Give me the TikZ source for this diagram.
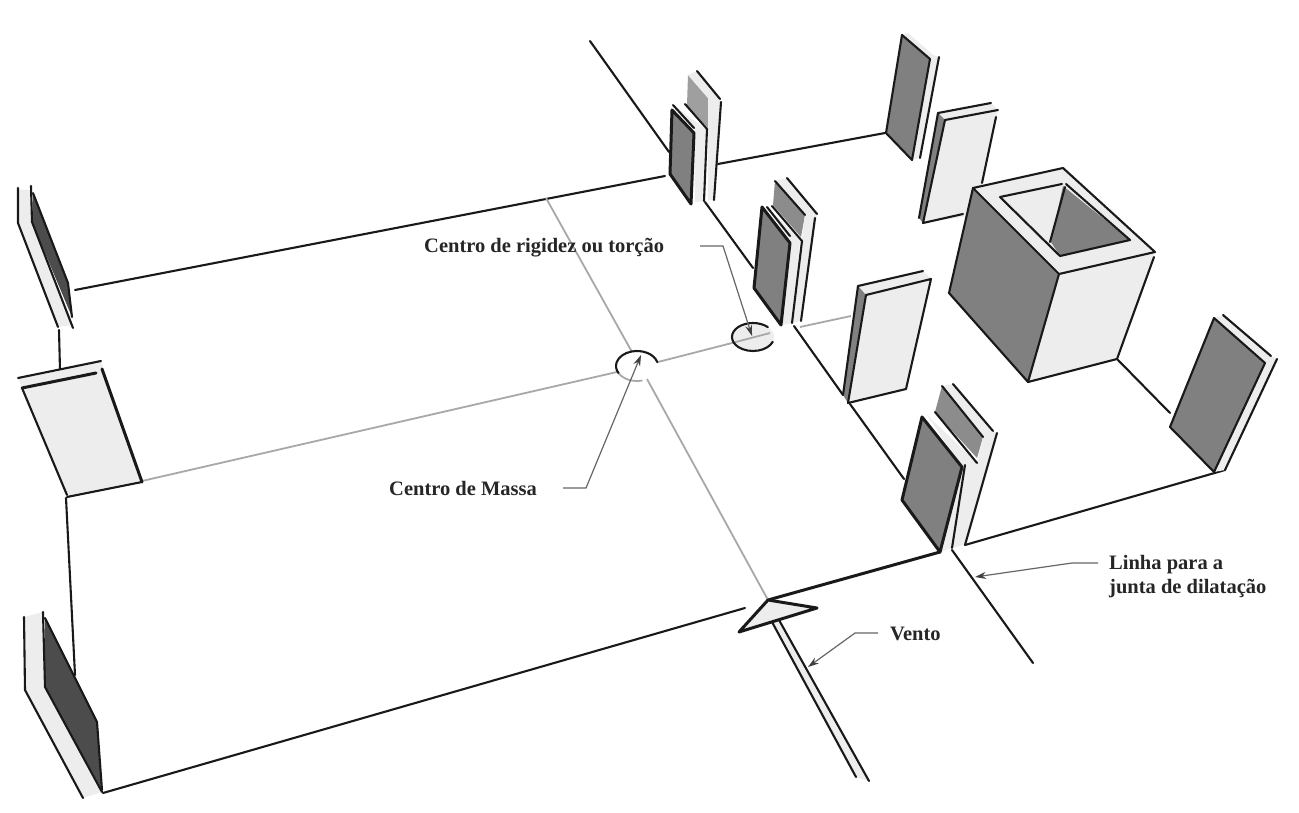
\documentclass[tikz,border=0pt]{standalone}
\usepackage{fontspec}
\setmainfont{Liberation Serif}
\usetikzlibrary{arrows.meta}
\definecolor{walldark}{gray}{0.5}
\definecolor{walldeep}{gray}{0.3}
\definecolor{walllight}{gray}{0.93}
\definecolor{axisgray}{gray}{0.66}
\tikzset{
	edgeline/.style={line width=2.1pt,line cap=round,line join=round,black!90},
	thickline/.style={line width=3pt,line cap=round,line join=round,black!90},
	axisline/.style={line width=1.8pt,axisgray},
	leader/.style={line width=1.2pt,black!60,-{Stealth[length=11pt,width=7pt,black!75]}},
	labeltext/.style={font=\fontsize{20.5}{24}\selectfont\bfseries,black!85,inner sep=0pt,align=left,anchor=west},
}
\begin{document}
\begin{tikzpicture}[x=1pt,y=-1pt]
	
	\useasboundingbox[fill=white] (0,0) rectangle (1299,813);
	
	\draw[edgeline] (75,290) -- (665,176);
	\draw[edgeline] (718,164) -- (885,133);
	\draw[edgeline] (590,41) -- (669,152);
	\draw[edgeline] (705,202) -- (753,268);
	\draw[edgeline] (794,326) -- (843,395);
	\draw[edgeline] (850,404) -- (904,479);
	\draw[edgeline] (952,550) -- (1033,663);
	\draw[edgeline] (1117,359) -- (1170,413);
	\draw[edgeline] (965,545) -- (1225,470);
	\draw[thickline] (768,600) -- (940,552);
	\draw[edgeline] (103,793) -- (745,608);
	\draw[edgeline] (59,330) -- (60,370);
	\draw[edgeline] (66,498) -- (75,675);
	
	\draw[axisline] (546,198) -- (632,352);
	\draw[axisline] (647,379) -- (768,600);
	\draw[axisline] (142,481) -- (617,372);
	\draw[axisline] (658,362) -- (732,343);
	\draw[axisline] (800,327) -- (851,316);
	
	\fill[walllight] (753,337) ellipse [x radius=21, y radius=14];
	\draw[axisline] (732,343) -- (770,333);
	\draw[edgeline] (753,337) ++(-45:21 and 14) arc[start angle=-45, end angle=-340, x radius=21, y radius=14];
	\draw[edgeline] (637,366) ++(-15:21 and 15) arc[start angle=-15, end angle=-210, x radius=21, y radius=15];
	\draw[axisline] (637,366) ++(-210:21 and 15) arc[start angle=-210, end angle=-285, x radius=21, y radius=15];
	
	\fill[walllight] (673,105) -- (707,130) -- (704,201) -- (695,202) -- (694,133) -- cycle;
	\fill[walldark!75] (688,75) -- (708,98) -- (708,128) -- (687,105) -- cycle;
	\fill[walllight] (697,71) -- (720,99) -- (714,200) -- (708,200) -- (708,98) -- (688,75) -- cycle;
	\fill[walldark] (672,110) -- (694,133) -- (691,204) -- (670,174) -- cycle;
	\draw[thickline] (672,110) -- (670,174) -- (691,204) -- (694,133) -- cycle;
	\draw[edgeline] (673,105) -- (694,128);
	\draw[edgeline] (685,104) -- (707,129) -- (704,201);
	\draw[edgeline] (697,71) -- (720,99);
	\draw[edgeline] (721,102) -- (714,200);
	
	\fill[walldark!90] (775,181) -- (805,215) -- (801,237) -- (773,205) -- cycle;
	\fill[walllight] (787,178) -- (817,214) -- (801,321) -- (792,323) -- (805,215) -- (775,181) -- cycle;
	\fill[walllight] (767,207) -- (800,240) -- (792,323) -- (781,325) -- (790,243) -- cycle;
	\fill[walldark] (762,207) -- (790,243) -- (781,325) -- (754,288) -- cycle;
	\draw[thickline] (762,207) -- (754,288) -- (781,325) -- (790,243) -- cycle;
	\draw[edgeline] (767,207) -- (790,236);
	\draw[edgeline] (775,181) -- (805,215);
	\draw[edgeline] (772,206) -- (802,241) -- (792,323);
	\draw[edgeline] (787,178) -- (817,214);
	\draw[edgeline] (815,218) -- (801,321);
	
	\fill[walllight] (858,286) -- (923,271) -- (931,279) -- (906,389) -- (848,403) -- (843,395) -- cycle;
	\fill[walldark] (858,286) -- (866,295) -- (848,403) -- (843,395) -- cycle;
	\draw[edgeline] (858,286) -- (923,271);
	\draw[edgeline] (858,286) -- (843,395);
	\draw[edgeline] (866,295) -- (931,279) -- (906,389) -- (848,403) -- cycle;
	
	\fill[walllight] (908,33) -- (933,55) -- (939,57) -- (920,158) -- (912,160) -- (930,59) -- (902,35) -- cycle;
	\fill[walldark] (902,35) -- (930,59) -- (912,160) -- (886,133) -- cycle;
	\draw[edgeline] (902,35) -- (886,133) -- (912,160) -- (930,59) -- cycle;
	\draw[edgeline] (939,57) -- (920,158);
	
	\fill[walllight] (938,113) -- (991,103) -- (998,110) -- (975,215) -- (923,223) -- (919,218) -- cycle;
	\fill[walldark] (938,113) -- (945,120) -- (923,223) -- (919,218) -- cycle;
	\draw[edgeline] (938,113) -- (991,103);
	\draw[edgeline] (938,113) -- (919,218);
	\draw[edgeline] (945,120) -- (998,110);
	\draw[edgeline] (945,120) -- (923,223) -- (963,214);
	\draw[edgeline] (996,117) -- (982,183);
	
	\fill[walllight] (973,188) -- (1063,168) -- (1155,252) -- (1117,359) -- (1028,382) -- (1059,274) -- cycle;
	\fill[walldark] (973,188) -- (1059,274) -- (1028,382) -- (949,293) -- cycle;
	\fill[walllight] (1000,197) -- (1062,184) -- (1051,242) -- cycle;
	\fill[walldark] (1063,186) -- (1130,240) -- (1060,256) -- (1051,242) -- cycle;
	\draw[edgeline] (973,188) -- (1063,168) -- (1155,252) -- (1059,274) -- cycle;
	\draw[edgeline] (973,188) -- (949,293) -- (1028,382) -- (1059,274);
	\draw[edgeline] (1028,382) -- (1117,359) -- (1154,257);
	\draw[edgeline] (1000,197) -- (1062,184);
	\draw[edgeline] (1000,197) -- (1060,256) -- (1130,240) -- (1066,184);
	\draw[edgeline] (1050,242) -- (1065,187);
	
	\fill[walllight] (1223,315) -- (1271,356) -- (1277,359) -- (1225,470) -- (1214,472) -- (1265,363) -- (1214,318) -- cycle;
	\fill[walldark] (1214,318) -- (1265,363) -- (1214,472) -- (1170,427) -- cycle;
	\draw[edgeline] (1214,318) -- (1170,427) -- (1214,472) -- (1265,363) -- cycle;
	\draw[edgeline] (1223,315) -- (1271,356);
	\draw[edgeline] (1277,359) -- (1225,470);
	
	\fill[walldark!90] (942,386) -- (983,437) -- (977,458) -- (935,412) -- cycle;
	\fill[walllight] (953,384) -- (993,431) -- (997,433) -- (965,545) -- (952,548) -- (977,463) -- (983,437) -- (942,386) -- cycle;
	\fill[walllight] (927,415) -- (977,463) -- (952,548) -- (940,552) -- (962,467) -- cycle;
	\fill[walldark] (922,417) -- (962,467) -- (940,552) -- (902,500) -- cycle;
	\draw[thickline] (922,417) -- (902,500) -- (940,552) -- (962,467) -- cycle;
	\draw[edgeline] (942,386) -- (983,437);
	\draw[edgeline] (935,412) -- (977,463);
	\draw[edgeline] (953,384) -- (993,431);
	\draw[edgeline] (965,465) -- (952,548);
	\draw[edgeline] (997,433) -- (965,545);
	
	\fill[walllight] (18,190) -- (31,190) -- (32,222) -- (72,325) -- (58,327) -- (18,223) -- cycle;
	\fill[walldeep] (33,193) -- (68,283) -- (72,317) -- (32,222) -- cycle;
	\draw[edgeline] (18,188) -- (18,223) -- (58,327);
	\draw[edgeline] (31,186) -- (32,222) -- (73,328);
	\draw[edgeline] (33,193) -- (68,283) -- (72,317);
	
	\fill[walllight] (18,378) -- (101,361) -- (142,482) -- (67,497) -- (22,388) -- cycle;
	\draw[edgeline] (18,378) -- (101,361);
	\draw[thickline] (22,388) -- (96,373);
	\draw[thickline] (102,369) -- (142,482);
	\draw[edgeline] (22,388) -- (67,495);
	\draw[edgeline] (67,497) -- (142,482);
	
	\fill[walllight] (24,617) -- (43,612) -- (45,687) -- (102,792) -- (83,798) -- (25,690) -- cycle;
	\fill[walldeep] (45,618) -- (97,722) -- (102,790) -- (45,687) -- cycle;
	\draw[edgeline] (24,617) -- (25,690) -- (83,798);
	\draw[edgeline] (43,612) -- (45,687) -- (102,792);
	\draw[edgeline] (45,618) -- (97,722) -- (102,790);
	
	\fill[walllight] (772,622) -- (779,620) -- (869,781) -- (856,777) -- cycle;
	\draw[edgeline] (772,622) -- (856,777);
	\draw[edgeline] (779,620) -- (869,781);
	\fill[walllight] (768,600) -- (817,608) -- (739,632) -- cycle;
	\draw[thickline] (817,608) -- (768,600) -- (739,632) -- cycle;
	
	\node[labeltext] (txtrigidez) at (424,248) {Centro de rigidez ou torção};
	\node[labeltext] (txtmassa) at (389,488) {Centro de Massa};
	\node[labeltext] (txtjunta) at (1109,577) {Linha para a\\junta de dilatação};
	\node[labeltext] (txtvento) at (890,634) {Vento};
	
	\coordinate (ptrigidez) at (752,336);
	\coordinate (ptmassa) at (641,355);
	\coordinate (ptjunta) at (975,577);
	\coordinate (ptvento) at (808,667);
	
	\draw[leader] (700,246) -- (723,246) -- (ptrigidez);
	\draw[leader] (563,488) -- (586,488) -- (ptmassa);
	\draw[leader] (1098,563) -- (1072,563) -- (ptjunta);
	\draw[leader] (878,633) -- (855,633) -- (ptvento);
	
\end{tikzpicture}
\end{document}
